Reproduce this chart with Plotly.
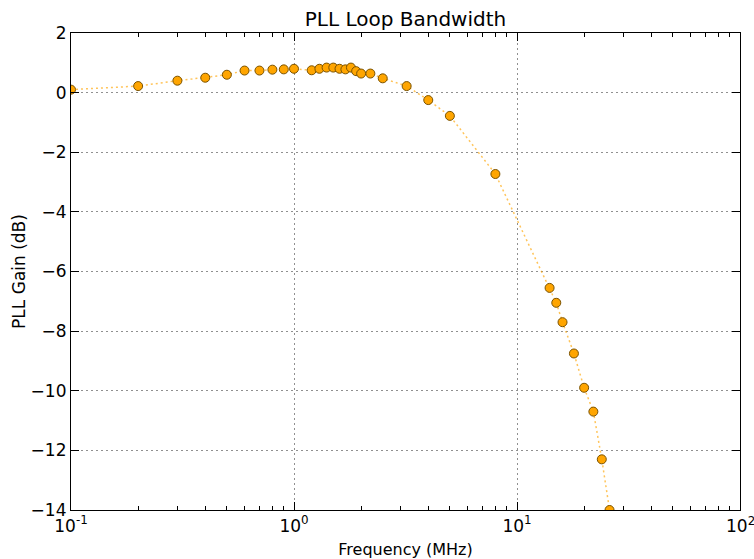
import plotly.graph_objects as go

freq_mhz = [0.1, 0.2, 0.3, 0.4, 0.5, 0.6, 0.7, 0.8, 0.9, 1.0, 1.2, 1.3, 1.4, 1.5, 1.6, 1.7,
            1.8, 1.9, 2.0, 2.2, 2.5, 3.2, 4.0, 5.0, 8.0, 14, 15, 16, 18, 20, 22, 24, 26]
gain_db = [0.1, 0.22, 0.4, 0.5, 0.6, 0.74, 0.74, 0.77, 0.78, 0.8, 0.75, 0.8, 0.84, 0.84, 0.8, 0.78,
           0.84, 0.72, 0.64, 0.64, 0.48, 0.22, -0.25, -0.78, -2.73, -6.55, -7.05, -7.7, -8.75,
           -9.9, -10.7, -12.3, -14.0]

x_tickvals = [0.1, 1, 10, 100]
x_ticktext = ["10<sup>-1</sup>", "10<sup>0</sup>", "10<sup>1</sup>", "10<sup>2</sup>"]
y_tickvals = [-14, -12, -10, -8, -6, -4, -2, 0, 2]
y_ticktext = ["\u2212" + str(-v) if v < 0 else str(v) for v in y_tickvals]

fig = go.Figure()
fig.add_trace(go.Scatter(
    x=freq_mhz, y=gain_db, mode="lines+markers",
    line=dict(color="rgba(255,165,0,0.65)", width=1.5, dash="2px,3px"),
    marker=dict(color="#FFA500", size=9, line=dict(color="#7a5200", width=1)),
    showlegend=False,
))

# last tick label overflows the page edge (as in the reference); draw it as an annotation
fig.add_annotation(x=2, xref="x", y=0, yref="paper", text=x_ticktext[-1],
                   showarrow=False, xanchor="center", yanchor="top", yshift=-2,
                   font=dict(size=17, family="DejaVu Sans, sans-serif", color="black"))

font = "DejaVu Sans, sans-serif"
fig.update_layout(
    width=754, height=559,
    margin=dict(l=71, r=14, t=33, b=49),
    plot_bgcolor="white", paper_bgcolor="white",
    font=dict(family=font, size=16, color="black"),
    title=dict(text="PLL Loop Bandwidth", x=0.5, xanchor="center", xref="paper",
               y=1 - 19 / 559, yref="container", yanchor="middle",
               font=dict(size=20)),
    xaxis=dict(
        type="log", range=[-1, 2], tickvals=x_tickvals, ticktext=x_ticktext,
        automargin=False,
        ticks="inside", ticklen=8, tickcolor="black", showline=True, linecolor="black",
        linewidth=1.2, mirror="ticks", showgrid=True, gridcolor="#909090", griddash="2px,3px",
        gridwidth=1, zeroline=False,
        minor=dict(ticks="inside", ticklen=4, tickcolor="black", showgrid=False,
                   tickvals=[v * m for v in [0.1, 1, 10] for m in range(2, 10)]),
        title=dict(text="Frequency (MHz)", standoff=10, font=dict(size=16)),
        tickfont=dict(size=17),
    ),
    yaxis=dict(
        range=[-14, 2], tickvals=y_tickvals, ticktext=y_ticktext,
        automargin=False,
        ticks="inside", ticklen=8, tickcolor="black", showline=True, linecolor="black",
        linewidth=1.2, mirror="ticks", showgrid=True, gridcolor="#909090", griddash="2px,3px",
        gridwidth=1, zeroline=False,
        title=dict(text="PLL Gain (dB)", standoff=0, font=dict(size=17)),
        tickfont=dict(size=17),
    ),
)

fig.write_html("out.html")
